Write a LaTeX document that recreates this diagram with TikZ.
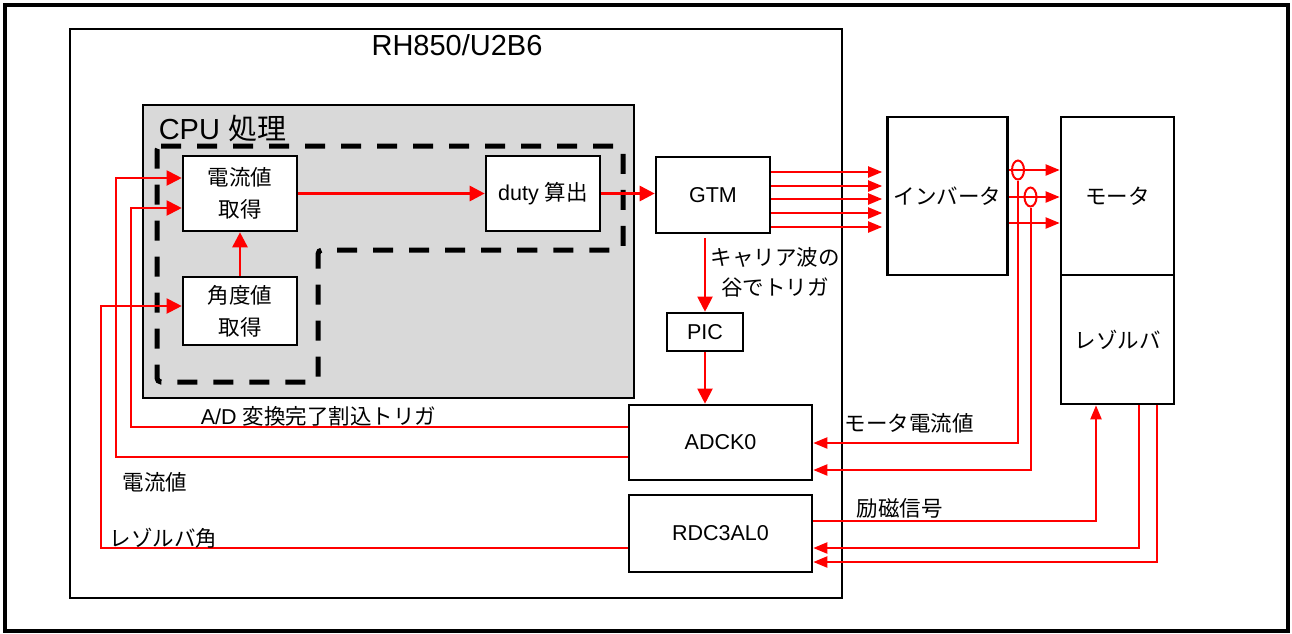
\documentclass[tikz,border=0pt]{standalone}
\usepackage{fontspec}
\setmainfont{Liberation Sans}
\newfontfamily\jp{Noto Sans CJK JP}
\usepackage{tikz}
\usetikzlibrary{arrows.meta,shapes.geometric,calc}
\definecolor{cpugray}{HTML}{D9D9D9}

\begin{document}
\begin{tikzpicture}[x=0.5pt,y=-0.5pt,thick,font=\fontsize{10.75}{16}\selectfont]
        \tikzstyle{box} = [rectangle, draw, line width=1.3pt, fill=white, align=center, inner sep=0pt]
        \tikzstyle{jbox} = [box, font=\jp\fontsize{10.75}{16}\selectfont]
        \tikzstyle{sigb} = [draw=red, line width=1.4pt, -{Triangle[length=7.5pt,width=7.5pt]}]
        \tikzstyle{sigl} = [draw=red, line width=1pt, -{Triangle[length=7.5pt,width=7.5pt]}]
        \tikzstyle{sigs} = [draw=red, line width=1pt, -{Triangle[length=7pt,width=5.5pt]}]
        \tikzstyle{ring} = [ellipse, draw=red, line width=1pt, minimum width=6pt, minimum height=9.5pt, inner sep=0pt]
        \tikzstyle{lbl} = [inner sep=0pt, anchor=west]
        \tikzstyle{title} = [font=\fontsize{14.5}{17}\selectfont]

        \useasboundingbox (0,0) rectangle (1292,633);

        % Frames
        \draw[line width=2pt] (5,5) rectangle (1288,631);
        \draw[line width=0.75pt] (70,29) rectangle (842,598);
        \draw[line width=0.9pt, fill=cpugray] (143,105) rectangle (634,398);
        \draw[line width=2.5pt, dash pattern=on 10pt off 8pt, rounded corners=2pt]
            (157,146) -- (623,146) -- (623,250) -- (318,250) -- (318,382) -- (157,382) -- cycle;
        \node[title] (mcu) at (457,45) {RH850/U2B6};
        \node[title, lbl] (cpu) at (158,129) {CPU {\jp 処理}};

        % Nodes
        \node[jbox, minimum width=57pt, minimum height=37.5pt] (cur) at (240,193.5) {電流値\\取得};
        \node[jbox, minimum width=57pt, minimum height=34pt] (ang) at (240,311) {角度値\\取得};
        \node[box, minimum width=57pt, minimum height=37.5pt] (duty) at (543,193.5) {duty {\jp 算出}};
        \node[box, minimum width=57pt, minimum height=38pt] (gtm) at (713,195) {GTM};
        \node[box, minimum width=38pt, minimum height=19pt] (pic) at (705,332) {PIC};
        \node[box, minimum width=91.5pt, minimum height=37.5pt] (adc) at (720.5,442.5) {ADCK0};
        \node[box, minimum width=91.5pt, minimum height=38.5pt] (rdc) at (720.5,533.5) {RDC3AL0};
        \node[jbox, minimum width=60pt, minimum height=79pt] (inv) at (947.5,196) {インバータ};
        \node[jbox, minimum width=56.5pt, minimum height=79pt] (mot) at (1117.5,196) {モータ};
        \node[jbox, minimum width=56.5pt, minimum height=64.5pt] (res) at (1117.5,339.5) {レゾルバ};
        \node[ring] (ia) at (1018,170) {};
        \node[ring] (ib) at (1030.5,197) {};

        % Edges
        \draw[sigb] (cur.east) -- (duty.west);
        \draw[sigb] (duty.east) -- (duty.east -| gtm.west);
        \draw[sigb] (ang.north) -- (cur.south);
        \draw[sigl, shorten <=2pt] (gtm.south -| pic.north) -- (pic.north);
        \draw[sigl] (pic.south) -- (pic.south |- adc.north);
        \foreach \y in {172,186,199,213,227}
            \draw[sigs, shorten >=2pt] (gtm.east |- 0,\y) -- (inv.west |- 0,\y);
        \foreach \y in {170,197,223}
            \draw[sigs] (inv.east |- 0,\y) -- (mot.west |- 0,\y);
        \draw[sigs] (ia.south) |- (adc.east |- 0,443);
        \draw[sigs] (ib.south) |- (adc.east |- 0,470);
        \draw[sigs] (rdc.east |- 0,521) -| (res.south -| 1096,0);
        \draw[sigs] (res.south -| 1139,0) |- (rdc.east |- 0,548);
        \draw[sigs] (res.south -| 1157,0) |- (rdc.east |- 0,562);
        \draw[sigl] (adc.west |- 0,427) -| (131,208) -- (cur.west |- 0,208);
        \draw[sigl] (adc.west |- 0,457) -| (116,178) -- (cur.west |- 0,178);
        \draw[sigl] (rdc.west |- 0,548) -| (101,306) -- (ang.west |- 0,306);

        % Labels
        \node[align=center, font=\jp\fontsize{10.75}{15}\selectfont] at (775,272) {キャリア波の\\谷でトリガ};
        \node[lbl] at (200,416) {A/D {\jp 変換完了割込トリガ}};
        \node[lbl] at (122,482) {\jp 電流値};
        \node[lbl] at (109,538) {\jp レゾルバ角};
        \node[lbl] at (844,423) {\jp モータ電流値};
        \node[lbl] at (856,508) {\jp 励磁信号};
    \end{tikzpicture}
\end{document}
